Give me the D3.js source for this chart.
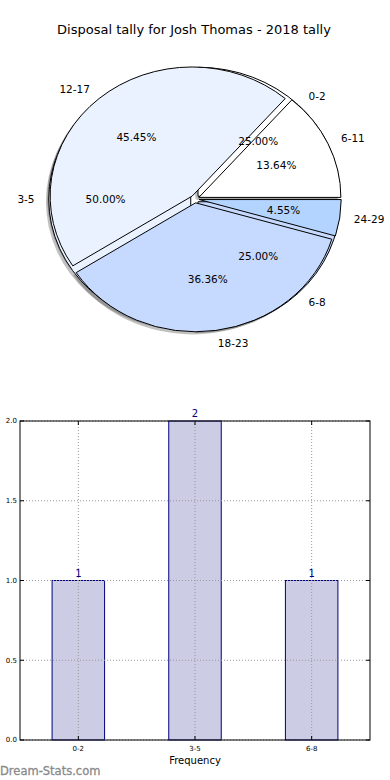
<!DOCTYPE html>
<html><head><meta charset="utf-8">
<script src="https://cdn.jsdelivr.net/npm/d3@7"></script>
<style>body{margin:0;background:#fff}svg{display:block;font-family:"DejaVu Sans",sans-serif}</style>
</head><body><svg id="c" width="390" height="780"></svg>
<script>
const title = "Disposal tally for Josh Thomas - 2018 tally";
const pie1Labels = ["0-2", "3-5", "6-8"];
const pie1Values = [1, 2, 1];
const pie2Labels = ["6-11", "12-17", "18-23", "24-29"];
const pie2Values = [3, 10, 8, 1];
const pieColors = ["#ffffff", "#eaf2ff", "#c6d9ff", "#b3d4ff"];
const barCategories = ["0-2", "3-5", "6-8"];
const barValues = [1, 2, 1];
const yTicks = [0, 0.5, 1.0, 1.5, 2.0];
const xLabel = "Frequency";

const svg = d3.select("#c");
svg.append("text").attr("x", 194).attr("y", 34).attr("text-anchor", "middle")
  .attr("font-size", 13).attr("fill", "#000").text(title);

// ---- pie ----
const cx = 195, cy = 199, rx = 142, ry = 129, explode = 0.03;
const arc = d3.arc().innerRadius(0).outerRadius(1);
const pieGen = d3.pie().sort(null).startAngle(Math.PI / 2).endAngle(Math.PI / 2 - 2 * Math.PI);
function build(labels, values) {
  return pieGen(values).map((d, i) => {
    const m = (d.startAngle + d.endAngle) / 2;
    const ux = Math.sin(m), uy = -Math.cos(m);
    return {d, i, label: labels[i], ux, uy,
      ox: cx + explode * rx * ux, oy: cy + explode * ry * uy,
      pct: (d.value / d3.sum(values) * 100).toFixed(2) + "%"};
  });
}
const p1 = build(pie1Labels, pie1Values);
const p2 = build(pie2Labels, pie2Values);
const gPie = svg.append("g");
// shadows
[p1, p2].forEach(p => {
  gPie.append("g").selectAll("path").data(p).join("path")
    .attr("d", s => arc(s.d))
    .attr("transform", s => `translate(${s.ox - 2.8},${s.oy + 2.6}) scale(${rx},${ry})`)
    .attr("fill", "#333").attr("fill-opacity", 0.3);
});
[p1, p2].forEach(p => {
  gPie.append("g").selectAll("path").data(p).join("path")
    .attr("d", s => arc(s.d))
    .attr("transform", s => `translate(${s.ox},${s.oy}) scale(${rx},${ry})`)
    .attr("fill", s => pieColors[s.i % pieColors.length])
    .attr("stroke", "#000").attr("stroke-width", 1)
    .attr("vector-effect", "non-scaling-stroke");
});
[p1, p2].forEach(p => {
  p.forEach(s => {
    const lx = s.ox + 1.1 * rx * s.ux, ly = s.oy + 1.1 * ry * s.uy;
    gPie.append("text").attr("x", lx).attr("y", ly).attr("dy", "0.35em")
      .attr("text-anchor", lx > cx ? "start" : "end")
      .attr("font-size", 10.5).text(s.label);
    gPie.append("text").attr("x", s.ox + 0.6 * rx * s.ux).attr("y", s.oy + 0.6 * ry * s.uy)
      .attr("dy", "0.35em").attr("text-anchor", "middle")
      .attr("font-size", 10.5).text(s.pct);
  });
});

// ---- bar chart ----
const L = 20, R = 370, T = 421, B = 740;
const x = d3.scalePoint().domain(barCategories).range([L, R]).padding(0.5);
const y = d3.scaleLinear().domain([0, 2]).range([B, T]);
const bw = x.step() * 0.45;
const g = svg.append("g");
g.selectAll("rect.bar").data(barValues).join("rect")
  .attr("x", (v, i) => x(barCategories[i]) - bw / 2).attr("y", v => y(v))
  .attr("width", bw).attr("height", v => B - y(v))
  .attr("fill", "#ccccE4").attr("stroke", "#00007f").attr("stroke-width", 1);
g.selectAll("line.gy").data(yTicks).join("line")
  .attr("x1", L).attr("x2", R).attr("y1", d => y(d)).attr("y2", d => y(d))
  .attr("stroke", "#999").attr("stroke-dasharray", "1,2").attr("stroke-width", 1);
g.selectAll("line.gx").data(barCategories).join("line")
  .attr("x1", d => x(d)).attr("x2", d => x(d)).attr("y1", T).attr("y2", B)
  .attr("stroke", "#999").attr("stroke-dasharray", "1,2").attr("stroke-width", 1);
g.append("rect").attr("x", L).attr("y", T).attr("width", R - L).attr("height", B - T)
  .attr("fill", "none").attr("stroke", "#000").attr("stroke-width", 1);
yTicks.forEach(t => {
  g.append("line").attr("x1", L).attr("x2", L + 4).attr("y1", y(t)).attr("y2", y(t)).attr("stroke", "#000");
  g.append("line").attr("x1", R - 4).attr("x2", R).attr("y1", y(t)).attr("y2", y(t)).attr("stroke", "#000");
  g.append("text").attr("x", L - 3).attr("y", y(t)).attr("dy", "0.35em").attr("text-anchor", "end")
    .attr("font-size", 7).text(t.toFixed(1));
});
barCategories.forEach(c => {
  g.append("line").attr("x1", x(c)).attr("x2", x(c)).attr("y1", B).attr("y2", B - 4).attr("stroke", "#000");
  g.append("line").attr("x1", x(c)).attr("x2", x(c)).attr("y1", T).attr("y2", T + 4).attr("stroke", "#000");
  g.append("text").attr("x", x(c)).attr("y", B + 11).attr("text-anchor", "middle")
    .attr("font-size", 7).text(c);
});
g.selectAll("text.val").data(barValues).join("text")
  .attr("x", (v, i) => x(barCategories[i])).attr("y", v => y(v) - 4)
  .attr("text-anchor", "middle").attr("font-size", 10).attr("fill", "#00007f").text(v => v);
g.append("text").attr("x", (L + R) / 2).attr("y", 764).attr("text-anchor", "middle")
  .attr("font-size", 10).text(xLabel);
svg.append("text").attr("x", 0).attr("y", 775).attr("font-size", 11.5)
  .attr("fill", "#8a8a8a").attr("stroke", "#8a8a8a").attr("stroke-width", 0.3).text("Dream-Stats.com");
</script></body></html>
